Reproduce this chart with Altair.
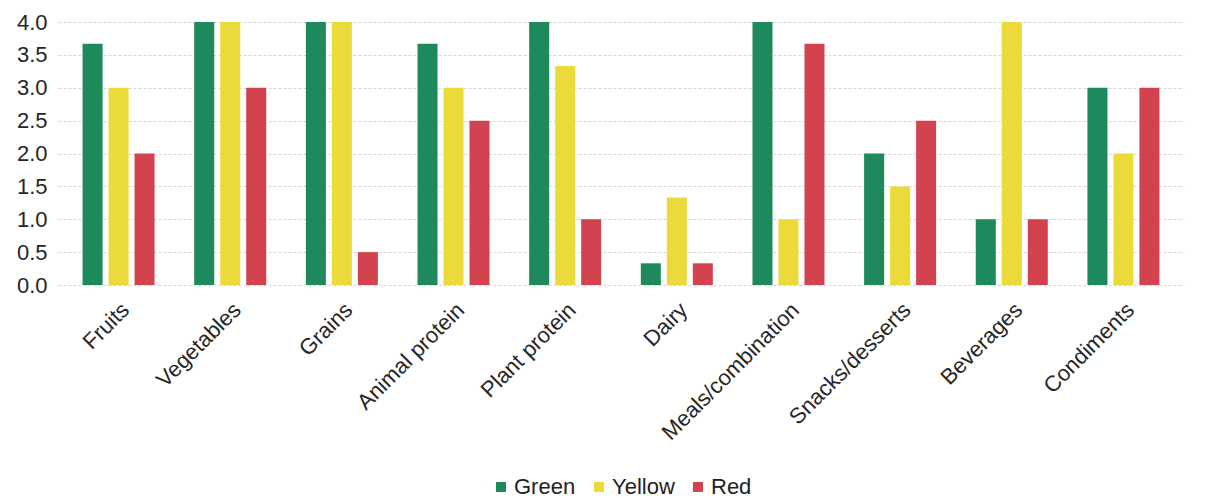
import altair as alt
import pandas as pd

categories = ["Fruits", "Vegetables", "Grains", "Animal protein", "Plant protein",
              "Dairy", "Meals/combination", "Snacks/desserts", "Beverages", "Condiments"]
series = ["Green", "Yellow", "Red"]
green = [3.67, 4.0, 4.0, 3.67, 4.0, 0.33, 4.0, 2.0, 1.0, 3.0]
yellow = [3.0, 4.0, 4.0, 3.0, 3.33, 1.33, 1.0, 1.5, 4.0, 2.0]
red = [2.0, 3.0, 0.5, 2.5, 1.0, 0.33, 3.67, 2.5, 1.0, 3.0]
colors = ["#1e8a5c", "#ecd93a", "#d2434f"]
y_ticks = [0, 0.5, 1, 1.5, 2, 2.5, 3, 3.5, 4]

rows = []
for name, vals in zip(series, [green, yellow, red]):
    for cat, v in zip(categories, vals):
        rows.append({"category": cat, "series": name, "value": v})
df = pd.DataFrame(rows)

font = "Liberation Sans"

chart = alt.Chart(df).mark_bar().encode(
    x=alt.X("category:N", sort=categories, title=None,
            scale=alt.Scale(paddingInner=0.355, paddingOuter=0.22),
            axis=alt.Axis(labelAngle=315, labelAlign="right", labelBaseline="top",
                          labelFontSize=22, labelFont=font, labelColor="#262626",
                          labelPadding=14, labelLimit=400, ticks=False,
                          domain=False, grid=False)),
    xOffset=alt.XOffset("series:N", sort=series,
                        scale=alt.Scale(paddingInner=0.23, paddingOuter=0)),
    y=alt.Y("value:Q", title=None,
            scale=alt.Scale(domain=[0, 4], nice=False),
            axis=alt.Axis(values=y_ticks, format=".1f", labelFontSize=22, labelFont=font,
                          labelColor="#262626", labelPadding=11, ticks=False,
                          domain=False, grid=True, gridColor="#d6d6d6",
                          gridDash=[3, 2], gridWidth=1)),
    color=alt.Color("series:N", sort=series, title=None,
                    scale=alt.Scale(domain=series, range=colors),
                    legend=alt.Legend(orient="none", legendX=432, legendY=454,
                                      direction="horizontal", symbolType="square",
                                      symbolSize=100, symbolStrokeWidth=0,
                                      labelFontSize=22, labelFont=font,
                                      labelColor="#222222", columnPadding=12,
                                      labelOffset=2)),
).properties(
    width=1126, height=263,
    padding={"left": 58, "top": 22, "right": 23, "bottom": 213},
    autosize=alt.AutoSizeParams(type="none"),
).configure_view(stroke=None)

chart.save("out.html", embed_options={"renderer": "svg", "actions": False})
